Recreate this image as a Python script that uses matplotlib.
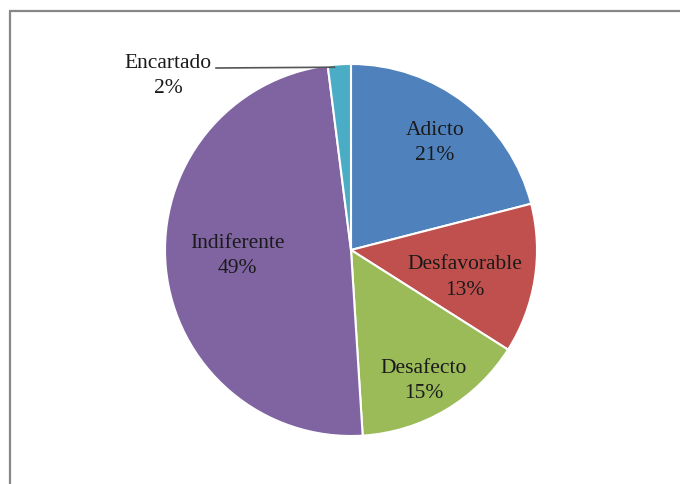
import numpy as np
import matplotlib
matplotlib.use("Agg")
import matplotlib.pyplot as plt

matplotlib.rcParams['font.family'] = 'Liberation Serif'

labels = ["Adicto", "Desfavorable", "Desafecto", "Indiferente", "Encartado"]
values = [21, 13, 15, 49, 2]
colors = ["#4F81BD", "#C0504D", "#9BBB59", "#8064A2", "#4BACC6"]

text_size = 15.5
cx, cy, rad = 351, 234, 186
# label placement: radius as a fraction of the pie radius, and angle shift (deg)
lab_r = [0.735, 0.63, 0.80, 0.61, None]
lab_da = [0, -4, -1.5, -3, 0]

fig = plt.figure(figsize=(6.8, 4.85), dpi=100)
ax = fig.add_axes([0, 0, 1, 1])

wedges, _ = ax.pie(values, colors=colors, startangle=90, counterclock=False,
                   center=(cx, cy), radius=rad, frame=True,
                   wedgeprops=dict(edgecolor='white', linewidth=1.5))
ax.set_xlim(0, 680)
ax.set_ylim(0, 485)
ax.axis('off')

for w, lab, v, r, da in zip(wedges, labels, values, lab_r, lab_da):
    mid = np.deg2rad((w.theta1 + w.theta2) / 2 + da)
    txt = "%s\n%d%%" % (lab, v)
    if r is not None:
        x = cx + r * rad * np.cos(mid)
        y = cy + r * rad * np.sin(mid)
        ax.text(x, y, txt, ha='center', va='center', fontsize=text_size,
                color='#1a1a1a', linespacing=1.45)
    else:
        # small slice: label outside with a leader line
        ex = cx + 0.99 * rad * np.cos(mid) - 5
        ey = cy + 0.99 * rad * np.sin(mid) - 1
        ax.plot([216, ex], [416, ey], color='#555555', lw=1.2)
        ax.text(168, 409, txt, ha='center', va='center', fontsize=text_size,
                color='#1a1a1a', linespacing=1.45)

# chart frame
ax.plot([9.5, 9.5], [0, 473], color='#878787', lw=1.6, solid_capstyle='butt')
ax.plot([9, 680], [473, 473], color='#878787', lw=1.6, solid_capstyle='butt')

fig.savefig("out.png", dpi=100)
